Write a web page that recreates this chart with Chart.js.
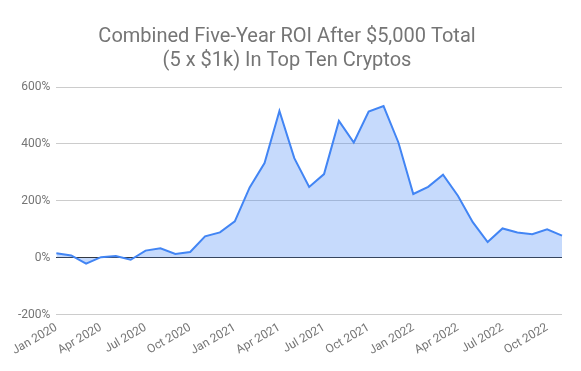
<!DOCTYPE html>
<html>
<head>
<meta charset="utf-8">
<script src="https://cdn.jsdelivr.net/npm/chart.js@4"></script>
<style>
  html, body { margin: 0; padding: 0; background: #fff; }
  #wrap { width: 581px; height: 371px; }
</style>
</head>
<body>
<div id="wrap"><canvas id="roiChart" width="581" height="371"></canvas></div>
<script>
// monthly points, Jan 2020 .. Nov 2022
const months = [
  "Jan 2020", "Feb 2020", "Mar 2020", "Apr 2020", "May 2020", "Jun 2020",
  "Jul 2020", "Aug 2020", "Sep 2020", "Oct 2020", "Nov 2020", "Dec 2020",
  "Jan 2021", "Feb 2021", "Mar 2021", "Apr 2021", "May 2021", "Jun 2021",
  "Jul 2021", "Aug 2021", "Sep 2021", "Oct 2021", "Nov 2021", "Dec 2021",
  "Jan 2022", "Feb 2022", "Mar 2022", "Apr 2022", "May 2022", "Jun 2022",
  "Jul 2022", "Aug 2022", "Sep 2022", "Oct 2022", "Nov 2022"
];
const roiPct = [
  16, 8, -21, 2, 6, -7, 25, 33, 13, 20, 75, 89,
  128, 247, 333, 516, 350, 249, 294, 481, 405, 514,
  533, 405, 224, 249, 292, 218, 125, 55, 103, 89,
  83, 100, 78
];
const yTicks = [-200, 0, 200, 400, 600];
const titleLines = ["Combined Five-Year ROI After $5,000 Total", "(5 x $1k) In Top Ten Cryptos"];

const ctx = document.getElementById('roiChart').getContext('2d');

new Chart(ctx, {
    type: 'line',
    data: {
        labels: months,
        datasets: [{
            label: "ROI",
            data: roiPct,
            borderColor: "#4285f4",
            backgroundColor: "rgba(66,133,244,0.3)",
            borderWidth: 2,
            pointRadius: 0,
            tension: 0,
            fill: 'origin'
        }]
    },
    options: {
        responsive: false,
        animation: false,
        layout: { padding: { left: 12, right: 19, top: 4, bottom: 7 } },
        plugins: {
            legend: { display: false },
            tooltip: { enabled: false },
            title: {
                display: true,
                text: titleLines,
                color: "#757575",
                font: { family: "Roboto", size: 20, weight: 'normal', lineHeight: 1.2 },
                padding: { top: 21, bottom: 14 }
            }
        },
        scales: {
            x: {
                grid: { display: false, drawTicks: false },
                border: { display: false },
                ticks: {
                    autoSkip: false,
                    maxRotation: 30,
                    minRotation: 30,
                    color: "#757575",
                    font: { family: "Roboto", size: 12 },
                    padding: 6,
                    callback: function (val, i) {
                        return i % 3 === 0 ? months[i] : "";
                    }
                }
            },
            y: {
                min: -200,
                max: 600,
                afterBuildTicks: function (axis) {
                    axis.ticks = yTicks.map(v => ({ value: v }));
                },
                grid: {
                    drawTicks: false,
                    color: c => c.tick && c.tick.value === 0 ? "#333333" : "#cccccc",
                    lineWidth: 1
                },
                border: { display: false },
                ticks: {
                    color: "#757575",
                    font: { family: "Roboto", size: 12 },
                    padding: 6,
                    callback: v => v + "%"
                }
            }
        }
    }
});
</script>
</body>
</html>
